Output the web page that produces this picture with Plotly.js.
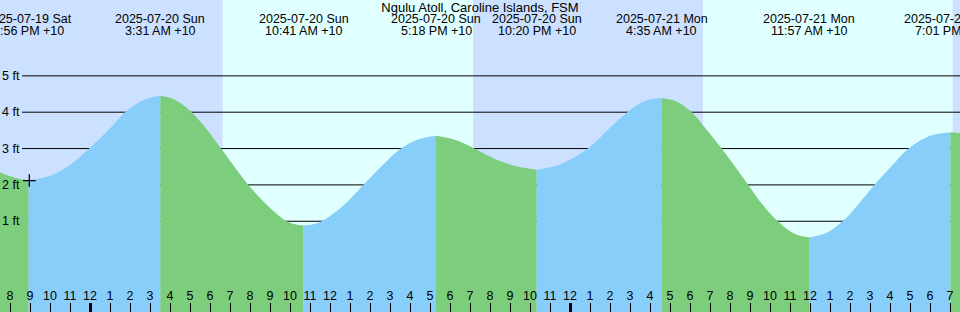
<!DOCTYPE html>
<html>
<head>
<meta charset="utf-8">
<script src="https://cdn.plot.ly/plotly-3.0.1.min.js"></script>
<style>html,body{margin:0;padding:0;background:#cce0ff;}#chart{width:960px;height:312px;}</style>
</head>
<body>
<div id="chart"></div>
<script>
// ---- data ----
const chartTitle = 'Ngulu Atoll, Caroline Islands, FSM';

// tide curve samples (local time, +10) and heights in feet
const tideTimes = [
  '2025-07-19 19:30','2025-07-19 20:15','2025-07-19 20:56','2025-07-19 22:00','2025-07-19 23:00',
  '2025-07-20 00:00','2025-07-20 01:00','2025-07-20 01:45','2025-07-20 02:30','2025-07-20 03:00','2025-07-20 03:31',
  '2025-07-20 04:15','2025-07-20 05:05','2025-07-20 05:50','2025-07-20 06:33','2025-07-20 07:55','2025-07-20 08:51',
  '2025-07-20 09:50','2025-07-20 10:15','2025-07-20 10:41',
  '2025-07-20 11:06','2025-07-20 11:35','2025-07-20 12:36','2025-07-20 13:40','2025-07-20 14:30','2025-07-20 15:33',
  '2025-07-20 16:24','2025-07-20 17:18',
  '2025-07-20 18:15','2025-07-20 19:13','2025-07-20 20:15','2025-07-20 21:15','2025-07-20 22:20',
  '2025-07-20 23:30','2025-07-21 00:53','2025-07-21 01:54','2025-07-21 02:52','2025-07-21 03:45','2025-07-21 04:35',
  '2025-07-21 05:18','2025-07-21 06:05','2025-07-21 06:50','2025-07-21 07:35','2025-07-21 08:55','2025-07-21 09:40',
  '2025-07-21 10:23','2025-07-21 11:15','2025-07-21 11:57',
  '2025-07-21 12:45','2025-07-21 13:38','2025-07-21 14:25','2025-07-21 15:13','2025-07-21 16:05','2025-07-21 16:56',
  '2025-07-21 18:00','2025-07-21 19:01','2025-07-21 19:30'
];
const tideHeights = [
  2.34, 2.20, 2.12, 2.25, 2.55,
  3.02, 3.55, 4.00, 4.29, 4.40, 4.45,
  4.34, 4.00, 3.53, 3.00, 2.00, 1.45,
  1.00, 0.92, 0.88,
  0.91, 1.00, 1.40, 2.00, 2.47, 3.00,
  3.25, 3.35,
  3.24, 3.00, 2.71, 2.52, 2.42,
  2.56, 3.00, 3.52, 4.00, 4.31, 4.39,
  4.30, 4.00, 3.52, 3.00, 2.00, 1.43,
  1.00, 0.65, 0.56,
  0.66, 1.00, 1.47, 2.00, 2.52, 3.00,
  3.35, 3.45, 3.43
];

// high / low tide events
const extremeTimes = [
  '2025-07-19 20:56','2025-07-20 03:31','2025-07-20 10:41','2025-07-20 17:18',
  '2025-07-20 22:20','2025-07-21 04:35','2025-07-21 11:57','2025-07-21 19:01'
];
const extremeDateLabels = [
  '2025-07-19 Sat','2025-07-20 Sun','2025-07-20 Sun','2025-07-20 Sun',
  '2025-07-20 Sun','2025-07-21 Mon','2025-07-21 Mon','2025-07-21 Mon'
];
const extremeTimeLabels = [
  '8:56 PM +10','3:31 AM +10','10:41 AM +10','5:18 PM +10',
  '10:20 PM +10','4:35 AM +10','11:57 AM +10','7:01 PM +10'
];

// daylight intervals
const sunriseTimes = ['2025-07-20 06:38','2025-07-21 06:39'];
const sunsetTimes  = ['2025-07-20 19:09','2025-07-21 19:08'];

// the "+" mark
const markTimes = ['2025-07-19 20:58'];
const markHeights = [2.12];

// axis ticks
const heightTicks = [1, 2, 3, 4, 5];
const heightTickLabels = ['1 ft', '2 ft', '3 ft', '4 ft', '5 ft'];
const timeRange = ['2025-07-19 19:30', '2025-07-21 19:30'];
const heightRange = [-1.497, 7.087];

// ---- styling ----
const NIGHT = '#cce0ff', DAY = '#e0ffff', RISE = '#87cefa', FALL = '#7ccd7c';
const FONT = 'Liberation Sans, Arial, Helvetica, sans-serif';

// ---- build traces ----
const extremeIdx = extremeTimes.map(t => tideTimes.indexOf(t));
const bounds = [0];
extremeIdx.forEach(i => { if (i > 0 && i < tideTimes.length - 1) bounds.push(i); });
bounds.push(tideTimes.length - 1);

const traces = [];
for (let s = 0; s < bounds.length - 1; s++) {
  const a = bounds[s], b = bounds[s + 1];
  const xs = tideTimes.slice(a, b + 1), ys = tideHeights.slice(a, b + 1);
  const rising = tideHeights[b] > tideHeights[a];
  traces.push({
    x: [xs[0], xs[xs.length - 1]], y: [heightRange[0], heightRange[0]],
    mode: 'lines', line: {width: 0}, hoverinfo: 'skip', showlegend: false
  });
  traces.push({
    x: xs, y: ys, mode: 'lines', fill: 'tonexty',
    fillcolor: rising ? RISE : FALL,
    line: {width: 0, shape: 'spline', smoothing: 1},
    hoverinfo: 'skip', showlegend: false
  });
}
traces.push({
  x: markTimes, y: markHeights, xaxis: 'x2', mode: 'markers',
  marker: {symbol: 'cross-thin', size: 9, line: {color: '#000', width: 1.3}},
  hoverinfo: 'skip', showlegend: false
});

// ---- shapes ----
const shapes = [];
sunriseTimes.forEach((t, i) => shapes.push({
  type: 'rect', xref: 'x', yref: 'paper', x0: t, x1: sunsetTimes[i], y0: 0, y1: 1,
  fillcolor: DAY, line: {width: 0}, layer: 'below'
}));
heightTicks.forEach(v => shapes.push({
  type: 'line', xref: 'paper', yref: 'y', x0: 22 / 960, x1: 1, y0: v, y1: v,
  line: {color: '#000', width: 1}, layer: 'below'
}));

// ---- annotations ----
const annotations = [];
extremeTimes.forEach((t, i) => {
  annotations.push({x: t, xref: 'x', y: 1 - 19.2 / 312, yref: 'paper', yanchor: 'middle', xanchor: 'center',
    text: extremeDateLabels[i], showarrow: false, font: {family: FONT, size: 12.5, color: '#000'}});
  annotations.push({x: t, xref: 'x', y: 1 - 31.5 / 312, yref: 'paper', yanchor: 'middle', xanchor: 'center',
    text: extremeTimeLabels[i], showarrow: false, font: {family: FONT, size: 12.5, color: '#000'}});
});
// height labels at the left edge
heightTicks.forEach((v, i) => annotations.push({
  x: 0, xref: 'paper', xanchor: 'left', y: v, yref: 'y', yanchor: 'middle',
  text: heightTickLabels[i], showarrow: false, font: {family: FONT, size: 12.5, color: '#000'}
}));

const layout = {
  width: 960, height: 312,
  margin: {l: 0, r: 0, t: 0, b: 0, pad: 0},
  paper_bgcolor: NIGHT, plot_bgcolor: NIGHT,
  showlegend: false, hovermode: false,
  font: {family: FONT, size: 12.5, color: '#000'},
  title: {text: chartTitle, x: 0.5, xanchor: 'center', xref: 'paper', y: 1 - 7.4 / 312, yanchor: 'middle', yref: 'container',
    font: {family: FONT, size: 13, color: '#000'}, pad: {t: 0, b: 0, l: 0, r: 0}},
  xaxis: {
    type: 'date', range: timeRange, showgrid: false, zeroline: false, showline: false,
    ticks: 'inside', ticklen: 9, tickwidth: 1, tickcolor: '#000',
    tick0: '2025-07-20 00:00', dtick: 3600000, tickformat: '%-I',
    ticklabelposition: 'inside', tickfont: {family: FONT, size: 12.5, color: '#000'},
    fixedrange: true
  },
  xaxis2: {
    type: 'date', range: timeRange, overlaying: 'x', anchor: 'y', side: 'bottom',
    showgrid: false, zeroline: false, showline: false,
    ticks: 'inside', ticklen: 9, tickwidth: 3, tickcolor: '#000',
    tick0: '2025-07-20 00:00', dtick: 86400000, showticklabels: false, fixedrange: true
  },
  yaxis: {
    range: heightRange, showgrid: false, zeroline: false, showline: false,
    showticklabels: false, ticks: '', fixedrange: true
  },
  shapes: shapes,
  annotations: annotations
};

Plotly.newPlot('chart', traces, layout, {staticPlot: true, displayModeBar: false});
</script>
</body>
</html>
